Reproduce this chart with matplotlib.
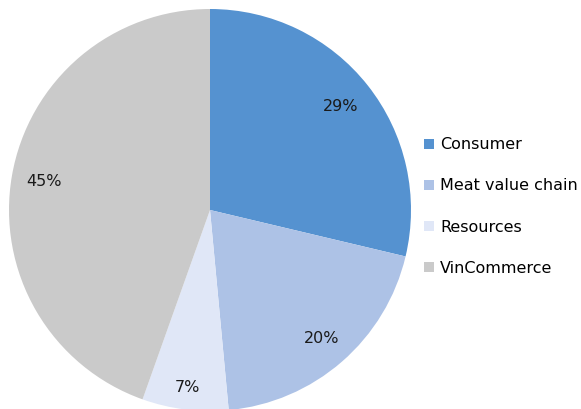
import matplotlib
matplotlib.use("Agg")
import matplotlib.pyplot as plt
from matplotlib.patches import Patch

categories = ["Consumer", "Meat value chain", "Resources", "VinCommerce"]
values = [29, 20, 7, 45]
colors = ["#5592D0", "#ADC2E6", "#E0E7F7", "#CACACA"]
label_dist = [0.83, 0.85, 0.89, 0.84]

plt.rcParams['font.family'] = ['DejaVu Sans']

fig = plt.figure(figsize=(5.81, 4.09), dpi=100)
W, H = 581, 409
cx, cy, r = 210, 210, 201
ax = fig.add_axes([(cx - r) / W, 1 - (cy + r) / H, 2 * r / W, 2 * r / H])
wedges, texts, autotexts = ax.pie(values, colors=colors, startangle=90, counterclock=False,
                                  autopct='%.0f%%', pctdistance=1.0,
                                  textprops=dict(fontsize=11.5, color='#1a1a1a'),
                                  wedgeprops=dict(linewidth=0))
for t, d in zip(autotexts, label_dist):
    x, y = t.get_position()
    t.set_position((x * d, y * d))
ax.set_xlim(-1, 1)
ax.set_ylim(-1, 1)
ax.set_aspect('equal')
ax.axis('off')

handles = [Patch(facecolor=c, edgecolor='none') for c in colors]
fig.legend(handles, categories, loc='center left', bbox_to_anchor=(424 / W, 1 - 206.5 / H),
           frameon=False, fontsize=11.5, handlelength=0.6, handleheight=0.6,
           handletextpad=0.4, labelspacing=1.63, borderpad=0, borderaxespad=0)

fig.savefig("out.png", dpi=100)
